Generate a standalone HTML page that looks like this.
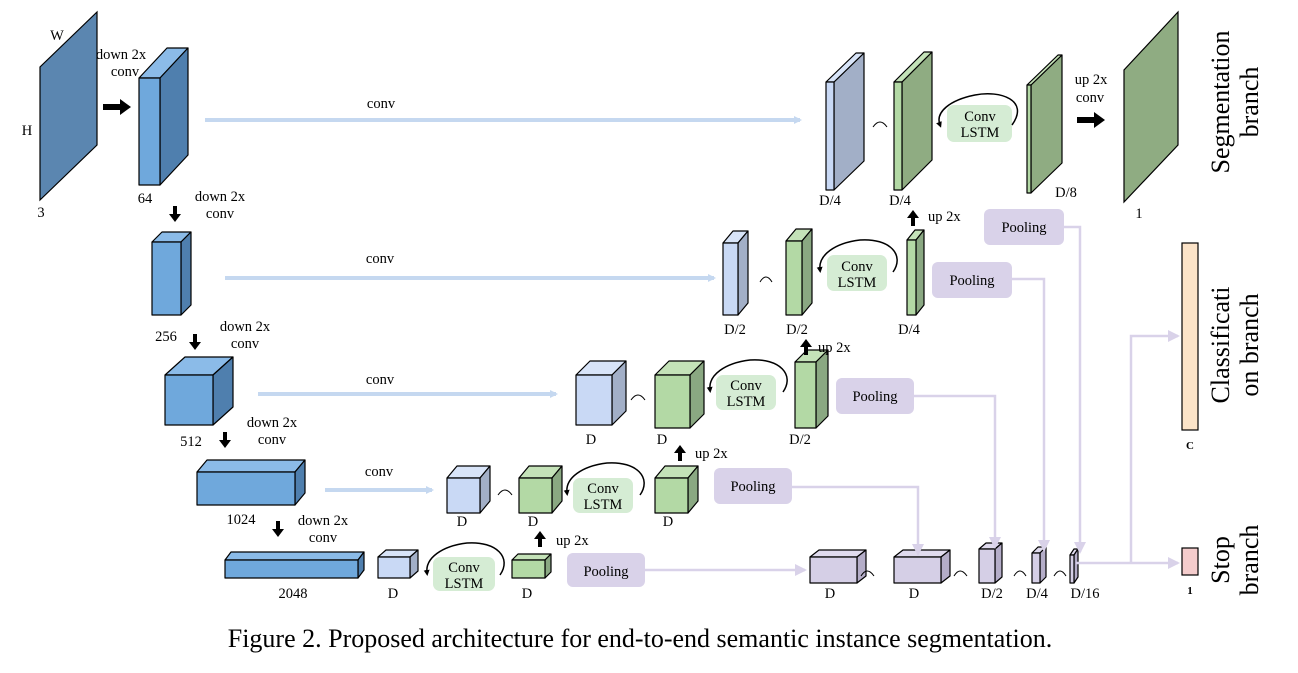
<!DOCTYPE html>
<html><head><meta charset="utf-8"><style>
html,body{margin:0;padding:0;background:#fff;}
svg{display:block;font-family:"Liberation Serif",serif;}
</style></head><body>
<svg id="s" width="1298" height="673" viewBox="0 0 1298 673" xmlns="http://www.w3.org/2000/svg">
<defs>
<marker id="la" markerWidth="8" markerHeight="8" refX="6" refY="4" orient="auto" markerUnits="userSpaceOnUse"><path d="M0,0 L8,4 L0,8 z" fill="#c5d8f0"/></marker>
<marker id="pa" markerWidth="12" markerHeight="12" refX="10" refY="6" orient="auto" markerUnits="userSpaceOnUse"><path d="M0,0 L12,6 L0,12 z" fill="#d9d2e9"/></marker>
<marker id="ka" markerWidth="6" markerHeight="6" refX="3" refY="3" orient="auto" markerUnits="userSpaceOnUse"><path d="M0,0 L6,3 L0,6 z" fill="#000"/></marker>
</defs>
<g id="g"></g>
<g stroke="#c5d8f0" stroke-width="4" fill="none">
<line x1="205" y1="120" x2="800" y2="120" marker-end="url(#la)"/>
<line x1="225" y1="278" x2="714" y2="278" marker-end="url(#la)"/>
<line x1="258" y1="394" x2="556" y2="394" marker-end="url(#la)"/>
<line x1="325" y1="490" x2="432" y2="490" marker-end="url(#la)"/>
</g>
<g stroke="#d9d2e9" stroke-width="2.5" fill="none">
<polyline points="645,570 805,570" marker-end="url(#pa)"/>
<polyline points="792,487 918,487 918,554" marker-end="url(#pa)"/>
<polyline points="914,396 995,396 995,547" marker-end="url(#pa)"/>
<polyline points="1012,279 1044,279 1044,550" marker-end="url(#pa)"/>
<polyline points="1064,227 1080,227 1080,552" marker-end="url(#pa)"/>
<polyline points="1076,563 1178,563" marker-end="url(#pa)"/>
<polyline points="1131,563 1131,336 1178,336" marker-end="url(#pa)"/>
</g>
<polygon points="40,200 40,67 97,12 97,145" fill="#5b86b0" stroke="#000" stroke-width="1.2"/>
<polygon points="1124,202 1124,70 1178,12 1178,145" fill="#8fac82" stroke="#000" stroke-width="1.2"/>
<g fill="#000">
<polygon points="103,104 120,104 120,99 131,107 120,115 120,110 103,110"/>
<polygon points="1077,117 1094,117 1094,112 1105,120 1094,128 1094,123 1077,123"/>
<polygon points="173,206 177,206 177,214 181,214 175,222 169,214 173,214"/>
<polygon points="193,334 197,334 197,342 201,342 195,350 189,342 193,342"/>
<polygon points="223,432 227,432 227,440 231,440 225,448 219,440 223,440"/>
<polygon points="276,521 280,521 280,529 284,529 278,537 272,529 276,529"/>
<polygon points="538,547 542,547 542,539 546,539 540,531 534,539 538,539"/>
<polygon points="678,461 682,461 682,453 686,453 680,445 674,453 678,453"/>
<polygon points="804,355 808,355 808,347 812,347 806,339 800,347 804,347"/>
<polygon points="911,226 915,226 915,218 919,218 913,210 907,218 911,218"/>
</g>
<g fill="#d5ecd4">
<rect x="947" y="105" width="65" height="37" rx="7"/>
<rect x="827" y="255" width="60" height="36" rx="7"/>
<rect x="716" y="375" width="60" height="35" rx="7"/>
<rect x="573" y="478" width="60" height="35" rx="7"/>
<rect x="433" y="557" width="62" height="34" rx="7"/>
</g>
<g fill="none" stroke="#000" stroke-width="1.5">
<path d="M1012,125 C1030,100 1000,90 975,95 C950,100 935,112 940,125" marker-end="url(#ka)"/>
<path d="M893,272 C905,255 890,238 860,240 C835,243 818,255 820,270" marker-end="url(#ka)"/>
<path d="M783,392 C795,375 780,358 750,360 C725,363 708,375 710,390" marker-end="url(#ka)"/>
<path d="M640,495 C652,478 637,461 607,463 C582,466 565,478 567,493" marker-end="url(#ka)"/>
<path d="M500,575 C512,558 497,541 467,543 C442,546 425,558 427,573" marker-end="url(#ka)"/>
</g>
<g fill="#d9d2e9">
<rect x="984" y="209" width="80" height="36" rx="6"/>
<rect x="932" y="262" width="80" height="36" rx="6"/>
<rect x="836" y="378" width="78" height="36" rx="6"/>
<rect x="714" y="468" width="78" height="36" rx="6"/>
<rect x="567" y="553" width="78" height="34" rx="6"/>
</g>
<rect x="1182" y="243" width="16" height="187" fill="#fbe3c8" stroke="#000" stroke-width="1.2"/>
<rect x="1182" y="548" width="16" height="27" fill="#f4cccc" stroke="#000" stroke-width="1.2"/>
<g fill="none" stroke="#000" stroke-width="1">
<path d="M873,127 Q880,117 887,127"/>
<path d="M760,282 Q766,272 772,282"/>
<path d="M631,400 Q638,390 645,400"/>
<path d="M498,495 Q505,485 512,495"/>
<path d="M861,576 Q867,566 874,576"/>
<path d="M954,576 Q960,566 967,576"/>
<path d="M1014,576 Q1020,566 1026,576"/>
<path d="M1054,576 Q1060,566 1066,576"/>
</g>
<g font-size="14.5" text-anchor="middle">
<text x="57" y="40">W</text><text x="27" y="135">H</text><text x="41" y="217">3</text>
<text x="121" y="59">down 2x</text><text x="125" y="76">conv</text><text x="145" y="203">64</text>
<text x="220" y="201">down 2x</text><text x="220" y="218">conv</text><text x="166" y="341">256</text>
<text x="245" y="331">down 2x</text><text x="245" y="348">conv</text><text x="191" y="446">512</text>
<text x="272" y="427">down 2x</text><text x="272" y="444">conv</text><text x="241" y="524">1024</text>
<text x="323" y="525">down 2x</text><text x="323" y="542">conv</text><text x="293" y="598">2048</text>
<text x="381" y="108">conv</text><text x="380" y="263">conv</text><text x="380" y="384">conv</text><text x="379" y="476">conv</text>
<text x="1091" y="84">up 2x</text><text x="1090" y="102">conv</text>
<text x="980" y="121">Conv</text><text x="980" y="137">LSTM</text>
<text x="857" y="271">Conv</text><text x="857" y="287">LSTM</text>
<text x="746" y="390">Conv</text><text x="746" y="406">LSTM</text>
<text x="603" y="493">Conv</text><text x="603" y="509">LSTM</text>
<text x="464" y="572">Conv</text><text x="464" y="588">LSTM</text>
<text x="1024" y="232">Pooling</text><text x="972" y="285">Pooling</text><text x="875" y="401">Pooling</text><text x="753" y="491">Pooling</text><text x="606" y="576">Pooling</text>
<text x="830" y="205">D/4</text><text x="900" y="205">D/4</text><text x="1066" y="197">D/8</text><text x="1139" y="218">1</text>
<text x="735" y="334">D/2</text><text x="797" y="334">D/2</text><text x="909" y="334">D/4</text>
<text x="591" y="444">D</text><text x="662" y="444">D</text><text x="800" y="444">D/2</text>
<text x="462" y="526">D</text><text x="533" y="526">D</text><text x="668" y="526">D</text>
<text x="393" y="598">D</text><text x="527" y="598">D</text>
<text x="830" y="598">D</text><text x="914" y="598">D</text><text x="992" y="598">D/2</text><text x="1037" y="598">D/4</text><text x="1085" y="598">D/16</text>
<text x="1190" y="449" font-size="11" font-weight="bold">C</text><text x="1190" y="594" font-size="11" font-weight="bold">1</text>
</g>
<g font-size="14.5">
<text x="928" y="221">up 2x</text><text x="818" y="352">up 2x</text><text x="695" y="458">up 2x</text><text x="556" y="545">up 2x</text>
</g>
<g font-size="26" text-anchor="middle">
<text transform="translate(1229,102) rotate(-90)">Segmentation</text>
<text transform="translate(1258,102) rotate(-90)">branch</text>
<text transform="translate(1229,345) rotate(-90)">Classificati</text>
<text transform="translate(1258,345) rotate(-90)">on branch</text>
<text transform="translate(1229,560) rotate(-90)">Stop</text>
<text transform="translate(1258,560) rotate(-90)">branch</text>
<text x="640" y="647" font-size="26">Figure 2. Proposed architecture for end-to-end semantic instance segmentation.</text>
</g>
</svg>
<script>
var g=document.getElementById('g'),NS='http://www.w3.org/2000/svg';
function P(pts,f){var p=document.createElementNS(NS,'polygon');p.setAttribute('points',pts.map(function(a){return a.join(',')}).join(' '));p.setAttribute('fill',f);p.setAttribute('stroke','#000');p.setAttribute('stroke-width','1.2');p.setAttribute('stroke-linejoin','round');g.appendChild(p);}
var C={b:['#6fa8dc','#4f7fae','#8bbbe8'],l:['#c9d9f5','#a2afc7','#d8e4f8'],g:['#b3d9a5','#8aa882','#c4e2b8'],p:['#d5cfe6','#b4adc8','#e0dbee']};
function B(x,y,w,h,dx,dy,c){var k=C[c];
P([[x,y],[x+dx,y-dy],[x+w+dx,y-dy],[x+w,y]],k[2]);
P([[x+w,y],[x+w+dx,y-dy],[x+w+dx,y+h-dy],[x+w,y+h]],k[1]);
P([[x,y],[x+w,y],[x+w,y+h],[x,y+h]],k[0]);}
B(139,78,21,107,28,30,'b');
B(152,242,29,73,10,10,'b');
B(165,375,48,50,20,18,'b');
B(197,472,98,33,10,12,'b');
B(225,560,133,18,6,8,'b');
B(378,557,32,21,8,7,'l');B(512,560,33,18,6,6,'g');
B(447,478,33,35,10,12,'l');B(519,478,33,35,10,12,'g');B(655,478,33,35,10,12,'g');
B(576,375,36,50,14,14,'l');B(655,375,35,53,14,14,'g');B(795,362,21,66,12,12,'g');
B(723,243,15,72,10,12,'l');B(786,241,16,74,10,12,'g');B(907,240,9,75,8,10,'g');
P([[834,82],[864,53],[864,161],[834,190]],'#a2afc7');P([[826,82],[856,53],[864,53],[834,82]],'#d8e4f8');P([[826,82],[834,82],[834,190],[826,190]],'#c9d9f5');
P([[902,82],[932,52],[932,160],[902,190]],'#8fac82');P([[894,82],[924,52],[932,52],[902,82]],'#c4e2b8');P([[894,82],[902,82],[902,190],[894,190]],'#b3d9a5');
P([[1031,85],[1062,55],[1062,163],[1031,193]],'#8fac82');P([[1027,85],[1058,55],[1062,55],[1031,85]],'#c4e2b8');P([[1027,85],[1031,85],[1031,193],[1027,193]],'#b3d9a5');
B(810,557,47,26,9,7,'p');B(894,557,47,26,9,7,'p');B(979,549,16,34,7,6,'p');B(1032,553,8,30,6,6,'p');B(1070,555,4,28,4,6,'p');
</script>
</body></html>
